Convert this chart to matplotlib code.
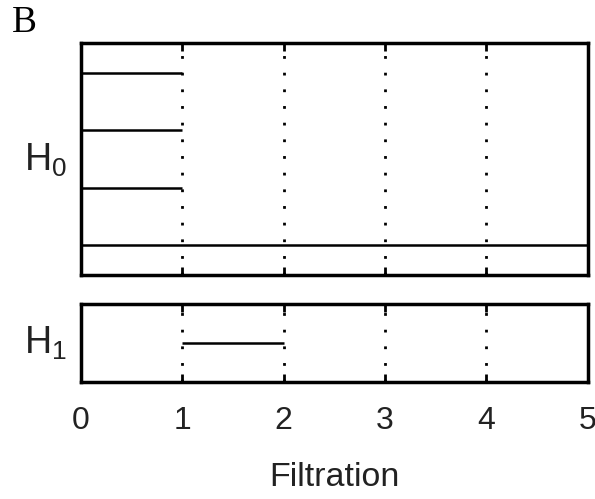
import matplotlib
matplotlib.use('Agg')
from matplotlib import pyplot as plt
import numpy as np

plt.rcParams['font.family'] = 'Liberation Sans'
plt.rcParams['mathtext.fontset'] = 'custom'
plt.rcParams['mathtext.rm'] = 'Liberation Sans'
plt.rcParams['mathtext.it'] = 'Liberation Sans'

# persistence barcode: birth, death (5 = runs to end of filtration)
h0_birth = [0, 0, 0, 0]
h0_death = [5, 1, 1, 1]
h0_level = [1, 2, 3, 4]
h1_birth = [1]
h1_death = [2]
h1_level = [1]
xticks = [0, 1, 2, 3, 4, 5]

fig = plt.figure(figsize=(5.95, 4.99), dpi=100)
ax0 = fig.add_axes([0.136, 0.449, 0.852, 0.465])
ax1 = fig.add_axes([0.136, 0.2345, 0.852, 0.1565])

def Style(ax):
    for s in ax.spines.values():
        s.set_linewidth(2.5)
    ax.set_xlim(0, 5)
    ax.set_xticks(xticks)
    ax.set_yticks([])
    ax.tick_params(axis='x', direction='in', top=True, bottom=True,
                   length=6, width=2, labelsize=23, pad=17, labelcolor='#222222')
    for x in xticks[1:-1]:
        ax.axvline(x, color='black', lw=2, linestyle=(0, (1, 5)),
                   dash_capstyle='butt', zorder=1)

Style(ax0)
Style(ax1)

ax0.hlines(h0_level, h0_birth, h0_death, color='black', lw=1.8, zorder=3)
ax0.set_ylim(0.48, 4.52)
ax0.tick_params(labelbottom=False)

ax1.hlines(h1_level, h1_birth, h1_death, color='black', lw=1.8, zorder=3)
ax1.set_ylim(0, 2)
ax1.set_xlabel('Filtration', fontsize=24.5, labelpad=19, color='#222222')

# row labels
fig.text(0.04, 0.679, r'$\mathregular{H_0}$', fontsize=27, va='center', ha='left', color='#222222')
fig.text(0.04, 0.311, r'$\mathregular{H_1}$', fontsize=27, va='center', ha='left', color='#222222')

fig.text(0.02, 0.955, 'B', family='Liberation Serif', fontsize=27, va='center')

fig.savefig('out.png', dpi=100)
plt.close()
